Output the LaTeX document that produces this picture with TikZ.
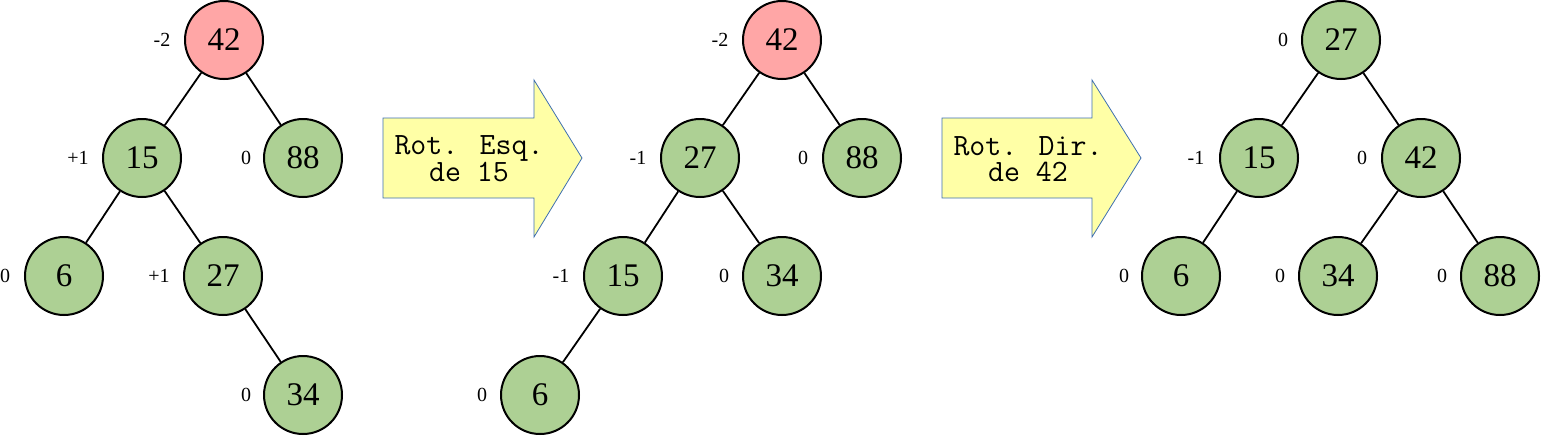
\documentclass[tikz,border=0pt]{standalone}
\usepackage{fontspec}
\setmainfont{Liberation Serif}
\usetikzlibrary{shapes.arrows}
\definecolor{ngreen}{HTML}{ADD094}
\definecolor{nred}{HTML}{FFA6A6}
\definecolor{ayel}{HTML}{FFFFA6}
\definecolor{ablue}{HTML}{3E6FB0}
\tikzset{
  x=1pt, y=-1pt,
  avl/.style={circle, draw=black, line width=2pt, minimum size=78pt, inner sep=0pt, fill=ngreen, font=\fontsize{33}{33}\selectfont},
  hot/.style={avl, fill=nred},
  bal/.style={font=\fontsize{20}{20}\selectfont, inner sep=0pt},
  edge/.style={line width=1.8pt},
  rot/.style={draw=ablue, line width=0.8pt, fill=ayel},
  rottext/.style={align=center, font=\ttfamily\fontsize{31}{26}\selectfont, inner sep=0pt},
}
\begin{document}
\begin{tikzpicture}
\useasboundingbox (0,0) rectangle (1542,437);
% Tree 1
\node[hot] (a42) at (224,40) {42};
\node[avl] (a15) at (142,158) {15};
\node[avl] (a88) at (303,158) {88};
\node[avl] (a6)  at (64,276) {6};
\node[avl] (a27) at (223,276) {27};
\node[avl] (a34) at (303,395) {34};
\draw[edge] (a42) -- (a15);
\draw[edge] (a42) -- (a88);
\draw[edge] (a15) -- (a6);
\draw[edge] (a15) -- (a27);
\draw[edge] (a27) -- (a34);
\node[bal] (la42) at (162,40) {-2};
\node[bal] (la15) at (78,158) {+1};
\node[bal] (la88) at (246,158) {0};
\node[bal] (la6)  at (5,276) {0};
\node[bal] (la27) at (159,276) {+1};
\node[bal] (la34) at (246,395) {0};
% Arrow 1
\draw[rot] (383,118) -- (534,118) -- (534,80) -- (582,158) -- (534,237) -- (534,198) -- (383,198) -- cycle;
\node[rottext] (t1) at (469,159) {Rot. Esq.\\de 15};
% Tree 2
\node[hot] (b42) at (782,40) {42};
\node[avl] (b27) at (700,158) {27};
\node[avl] (b88) at (862,158) {88};
\node[avl] (b15) at (623,276) {15};
\node[avl] (b34) at (782,276) {34};
\node[avl] (b6)  at (540,395) {6};
\draw[edge] (b42) -- (b27);
\draw[edge] (b42) -- (b88);
\draw[edge] (b27) -- (b15);
\draw[edge] (b27) -- (b34);
\draw[edge] (b15) -- (b6);
\node[bal] (lb42) at (720,40) {-2};
\node[bal] (lb27) at (638,158) {-1};
\node[bal] (lb88) at (803,158) {0};
\node[bal] (lb15) at (561,276) {-1};
\node[bal] (lb34) at (724,276) {0};
\node[bal] (lb6)  at (482,395) {0};
% Arrow 2
\draw[rot] (942,118) -- (1092,118) -- (1092,80) -- (1141,158) -- (1092,237) -- (1092,198) -- (942,198) -- cycle;
\node[rottext] (t2) at (1028,159) {Rot. Dir.\\de 42};
% Tree 3
\node[avl] (c27) at (1341,40) {27};
\node[avl] (c15) at (1259,158) {15};
\node[avl] (c42) at (1421,158) {42};
\node[avl] (c6)  at (1181,276) {6};
\node[avl] (c34) at (1338,276) {34};
\node[avl] (c88) at (1500,276) {88};
\draw[edge] (c27) -- (c15);
\draw[edge] (c27) -- (c42);
\draw[edge] (c15) -- (c6);
\draw[edge] (c42) -- (c34);
\draw[edge] (c42) -- (c88);
\node[bal] (lc27) at (1283,40) {0};
\node[bal] (lc15) at (1196,158) {-1};
\node[bal] (lc42) at (1362,158) {0};
\node[bal] (lc6)  at (1124,276) {0};
\node[bal] (lc34) at (1280,276) {0};
\node[bal] (lc88) at (1442,276) {0};
\end{tikzpicture}
\end{document}
